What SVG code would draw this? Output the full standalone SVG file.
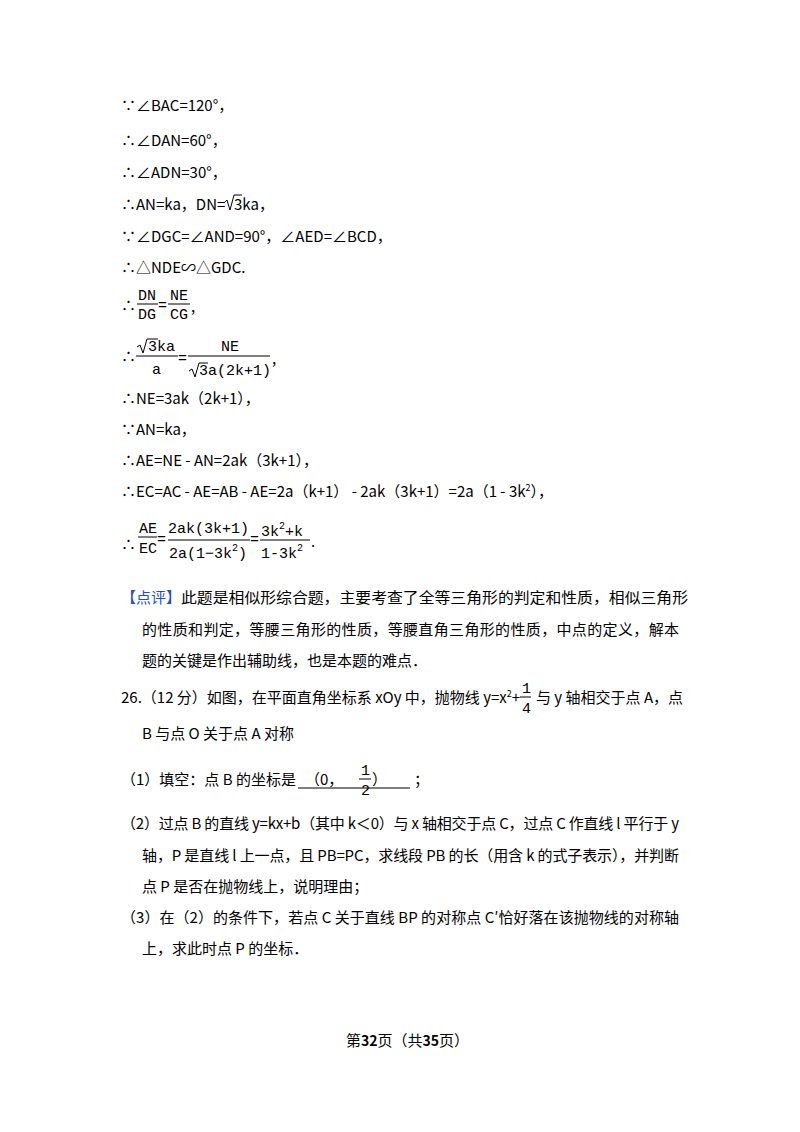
<svg xmlns="http://www.w3.org/2000/svg" width="800" height="1132" viewBox="0 0 800 1132">
<style>
text{font-family:"Noto Sans CJK SC","Noto Sans",sans-serif;font-size:15px;fill:#000}
.m{font-family:"Liberation Mono",monospace;font-size:15px}
.s{font-size:9px}
.r{fill:#1c4fd6}
line{stroke:#000;stroke-width:1}
path{fill:none;stroke:#000;stroke-width:1}
</style>
<rect width="800" height="1132" fill="#fff"/>
<g id="lines">
<text x="121" y="111">∵∠BAC=120°，</text>
<text x="121" y="146">∴∠DAN=60°，</text>
<text x="121" y="178">∴∠ADN=30°，</text>
<text x="121" y="210">∴AN=ka，DN=</text>
<path d="M224,203 l3,-3 l3,10 l4,-15 h8"/>
<text x="234" y="210">3ka，</text>
<text x="121" y="242">∵∠DGC=∠AND=90°，∠AED=∠BCD，</text>
<text x="121" y="273">∴△NDE∽△GDC.</text>
<text x="121" y="311">∴</text>
<text class="m" x="138" y="300">DN</text><line x1="137" y1="304" x2="158" y2="304"/><text class="m" x="138" y="319">DG</text>
<text class="m" x="158" y="310">=</text>
<text class="m" x="170" y="300">NE</text><line x1="168" y1="304" x2="190" y2="304"/><text class="m" x="170" y="319">CG</text>
<text x="191" y="312">,</text>
<text x="121" y="362">∴</text>
<path d="M137,347 l3,-2 l3,8 l4,-14 h11"/>
<text class="m" x="148" y="351">3ka</text>
<line x1="136" y1="356" x2="178" y2="356"/><text class="m" x="152" y="374">a</text>
<text class="m" x="178" y="363">=</text>
<text class="m" x="221" y="351">NE</text>
<line x1="188" y1="356" x2="270" y2="356"/>
<path d="M189,371 l3,-2 l3,8 l4,-14 h9"/>
<text class="m" x="199" y="375">3a(2k+1)</text>
<text x="272" y="364">,</text>
<text x="121" y="404">∴NE=3ak（2k+1），</text>
<text x="121" y="435">∵AN=ka，</text>
<text x="121" y="466">∴AE=NE - AN=2ak（3k+1），</text>
<text x="121" y="497">∴EC=AC - AE=AB - AE=2a（k+1） - 2ak（3k+1）=2a（1 - 3k<tspan class="s" dy="-6">2</tspan><tspan dy="6">），</tspan></text>
<text x="121" y="550">∴</text>
<text class="m" x="139" y="533">AE</text><line x1="138" y1="537" x2="157" y2="537"/><text class="m" x="139" y="553">EC</text>
<text class="m" x="157" y="544">=</text>
<text class="m" x="168" y="533">2ak(3k+1)</text>
<line x1="168" y1="540" x2="250" y2="540"/>
<text class="m" x="169" y="558">2a(1−3k<tspan font-size="10" dy="-7">2</tspan><tspan dy="7">)</tspan></text>
<text class="m" x="250" y="544">=</text>
<text class="m" x="261" y="536">3k<tspan font-size="10" dy="-7">2</tspan><tspan dy="7">+k</tspan></text>
<line x1="260" y1="540" x2="310" y2="540"/>
<text class="m" x="261" y="558">1-3k<tspan font-size="10" dy="-7">2</tspan></text>
<text x="311" y="547">.</text>
<text x="121" y="603"><tspan class="r">【点评】</tspan><tspan textLength="507" lengthAdjust="spacingAndGlyphs">此题是相似形综合题，主要考查了全等三角形的判定和性质，相似三角形</tspan></text>
<text x="142" y="635" textLength="537">的性质和判定，等腰三角形的性质，等腰直角三角形的性质，中点的定义，解本</text>
<text x="142" y="666">题的关键是作出辅助线，也是本题的难点．</text>
<text x="121" y="703">26.（12 分）如图，在平面直角坐标系 xOy 中，抛物线 y=x<tspan class="s" dy="-6">2</tspan><tspan dy="6">+</tspan></text>
<text class="m" x="522" y="693">1</text><line x1="520" y1="697" x2="531" y2="697"/><text class="m" x="522" y="713">4</text>
<text x="536" y="703">与 y 轴相交于点 A，点</text>
<text x="142" y="739">B 与点 O 关于点 A 对称</text>
<text x="121" y="785">（1）填空：点 B 的坐标是</text>
<line x1="298" y1="788" x2="410" y2="788"/>
<text x="305" y="785">（0，</text>
<text class="m" x="361" y="775">1</text><line x1="359" y1="779" x2="371" y2="779"/><text class="m" x="361" y="795">2</text>
<text x="372" y="785">）</text>
<text x="414" y="785">；</text>
<text x="121" y="829" textLength="558">（2）过点 B 的直线 y=kx+b（其中 k＜0）与 x 轴相交于点 C，过点 C 作直线 l 平行于 y</text>
<text x="142" y="861" textLength="537">轴，P 是直线 l 上一点，且 PB=PC，求线段 PB 的长（用含 k 的式子表示），并判断</text>
<text x="142" y="892">点 P 是否在抛物线上，说明理由；</text>
<text x="121" y="923" textLength="558">（3）在（2）的条件下，若点 C 关于直线 BP 的对称点 C′恰好落在该抛物线的对称轴</text>
<text x="142" y="954">上，求此时点 P 的坐标．</text>
<text x="346" y="1046" font-size="12">第<tspan font-weight="bold" font-size="14">32</tspan>页（共<tspan font-weight="bold" font-size="14">35</tspan>页）</text>
</g>
</svg>
